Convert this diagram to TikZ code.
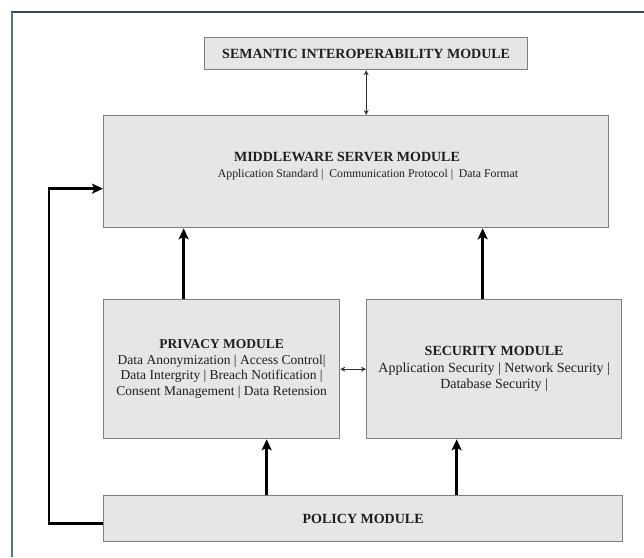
\documentclass[tikz,border=0pt]{standalone}
\usepackage{fontspec}
\setmainfont{Liberation Serif}
\usetikzlibrary{arrows.meta}
\definecolor{boxfill}{HTML}{E6E6E6}
\definecolor{boxline}{HTML}{7F7F7F}
\definecolor{frametop}{HTML}{3B4650}
\definecolor{frameleft}{HTML}{4E7A84}
\definecolor{txt}{HTML}{1E1E1E}
\tikzset{
  x=1pt, y=-1pt,
  modbox/.style={draw=boxline, fill=boxfill, line width=1.3pt, rectangle,
    inner sep=0pt, align=center, text=txt, anchor=north west},
  bigarrow/.style={line width=2.4pt, -{Stealth[length=11pt,width=10pt,inset=2.5pt]}},
  thinarrow/.style={line width=0.9pt, draw=black!80,
    {Stealth[length=5pt,width=5pt]}-{Stealth[length=5pt,width=5pt]}},
}
\begin{document}
\begin{tikzpicture}
\useasboundingbox (0,0) rectangle (644,557);
\fill[white] (0,0) rectangle (644,557);
% partial outer frame
\draw[frametop, line width=1.6pt] (11,12) -- (644,12);
\draw[frameleft, line width=1.6pt] (12,12) -- (12,557);

% modules
\node[modbox, minimum width=323pt, minimum height=32pt,
      font=\fontsize{14}{16}\selectfont\bfseries] (sem) at (204,37)
  {SEMANTIC INTEROPERABILITY MODULE};
\node[modbox, minimum width=505pt, minimum height=112pt] (mid) at (103,115) {};
\node[font=\fontsize{14}{16}\selectfont\bfseries, text=txt, inner sep=0pt]
  (midtitle) at (347,157) {MIDDLEWARE SERVER MODULE};
\node[font=\fontsize{11.75}{14}\selectfont, text=txt, inner sep=0pt] (midsub) at (368,175)
  {Application Standard |\ \ Communication Protocol |\ \ Data Format};
\node[modbox, minimum width=236pt, minimum height=139pt,
      font=\fontsize{13.5}{15.5}\selectfont] (priv) at (103,299)
  {\textbf{PRIVACY MODULE}\\
   Data Anonymization | Access Control|\\
   Data Intergrity | Breach Notification |\\
   Consent Management | Data Retension};
\node[modbox, minimum width=255pt, minimum height=139pt,
      font=\fontsize{14}{16.5}\selectfont] (sec) at (366,299)
  {\textbf{SECURITY MODULE}\\
   Application Security | Network Security |\\
   Database Security |};
\node[modbox, minimum width=519pt, minimum height=46pt,
      font=\fontsize{14}{16}\selectfont\bfseries] (pol) at (103,495)
  {POLICY MODULE};

% connectors
\draw[thinarrow] (sem.south) -- (sem.south |- mid.north);
\draw[thinarrow] (priv.east) -- (priv.east -| sec.west);
\draw[bigarrow] ([xshift=-38pt]priv.north) -- ([xshift=-38pt]priv.north |- mid.south);
\draw[bigarrow] ([xshift=-11.5pt]sec.north) -- ([xshift=-11.5pt]sec.north |- mid.south);
\draw[bigarrow] ([xshift=45pt]priv.south |- pol.north) -- ([xshift=45pt]priv.south);
\draw[bigarrow] ([xshift=-37.5pt]sec.south |- pol.north) -- ([xshift=-37.5pt]sec.south);
\draw[bigarrow] ([yshift=-5pt]pol.west) -- ++(-54,0) |- ([yshift=-17pt]mid.west);
\end{tikzpicture}
\end{document}
